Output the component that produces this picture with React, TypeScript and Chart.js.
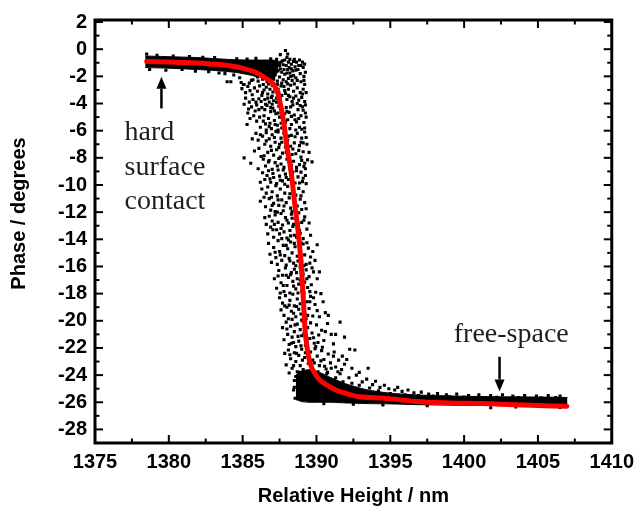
import React, { useEffect, useRef } from 'react';
import { Chart, registerables } from 'chart.js';

Chart.register(...registerables);

// ---------- axis ticks ----------
const xMajorTicks = [1375, 1380, 1385, 1390, 1395, 1400, 1405, 1410];
const xMinorTicks = [1377.5, 1382.5, 1387.5, 1392.5, 1397.5, 1402.5, 1407.5];
const yMajorTicks = [-28, -26, -24, -22, -20, -18, -16, -14, -12, -10, -8, -6, -4, -2, 0, 2];
const yMinorTicks = [-27, -25, -23, -21, -19, -17, -15, -13, -11, -9, -7, -5, -3, -1, 1];

// ---------- fitted curve (red) ----------
const fitX = [1378.5, 1380.0, 1381.5, 1383.0, 1384.0, 1385.0, 1385.9, 1386.5, 1387.1, 1387.4, 1387.6, 1387.8, 1387.95, 1388.3, 1388.56, 1388.76, 1388.96, 1389.1, 1389.23, 1389.4, 1389.56, 1389.9, 1390.2, 1390.8, 1391.3, 1392.0, 1392.9, 1394.6, 1396.8, 1399.0, 1401.3, 1404.0, 1406.95];
const fitY = [-0.9, -0.95, -1.0, -1.1, -1.2, -1.4, -1.7, -2.1, -2.6, -3.3, -4.3, -5.5, -6.8, -9.2, -11.7, -13.4, -15.8, -18.2, -20.7, -22.2, -23.1, -23.9, -24.35, -24.8, -25.1, -25.35, -25.6, -25.7, -25.95, -26.05, -26.1, -26.2, -26.3];

// ---------- dense bands of measured points (upper/lower envelope) ----------
const contactBandX = [1378.4, 1380.0, 1382.0, 1383.5, 1384.6, 1385.5, 1386.3, 1387.0, 1387.4];
const contactBandTop = [-0.5, -0.55, -0.62, -0.72, -0.78, -0.8, -0.8, -0.8, -0.85];
const contactBandBottom = [-1.35, -1.4, -1.5, -1.6, -1.72, -1.9, -2.1, -2.3, -1.6];

const freeBandX = [1388.6, 1389.0, 1389.5, 1390.2, 1391.0, 1392.0, 1393.5, 1395.0, 1397.0, 1400.0, 1403.0, 1405.5, 1407.0];
const freeBandTop = [-24.0, -23.7, -23.6, -23.8, -24.2, -24.65, -25.1, -25.33, -25.47, -25.56, -25.6, -25.62, -25.65];
const freeBandBottom = [-25.8, -25.95, -26.0, -26.0, -26.0, -26.05, -26.1, -26.12, -26.18, -26.22, -26.25, -26.28, -26.3];

// ---------- individual measured points ----------
const plateauPoints = [
  [1378.5, -0.35], [1378.7, -1.5], [1379.2, -0.45], [1379.8, -1.55], [1380.3, -0.5], [1380.9, -1.5],
  [1381.4, -0.55], [1381.8, -1.62], [1382.3, -0.6], [1382.7, -1.65], [1383.1, -0.62], [1383.4, -1.75],
  [1383.8, -1.8], [1383.95, -2.4], [1384.2, -2.4], [1384.4, -1.9], [1384.6, -0.7], [1384.8, -2.1],
  [1385.05, -2.6], [1385.3, -0.72], [1385.6, -2.3], [1385.9, -0.68],
];

const transitionPoints = [
  [1387.55, -0.4], [1387.9, -0.1], [1388.05, -0.35], [1388.0, -0.6], [1388.2, -0.75], [1388.85, -0.8],
  [1389.05, -0.95], [1388.95, -1.2], [1387.7, -0.85], [1387.3, -0.75], [1386.9, -0.7], [1388.45, -0.9],
  [1388.3, -1.1], [1388.55, -1.3], [1388.75, -1.5], [1389.1, -1.35], [1388.9, -1.8], [1389.15, -2.0],
  [1388.6, -2.1], [1388.4, -1.6], [1388.95, -2.4], [1389.2, -2.6], [1386.05, -2.35], [1385.7, -2.25],
  [1385.45, -2.5], [1385.1, -2.6], [1384.9, -2.45],
  [1385.85, -1.9], [1386.0, -2.05], [1386.2, -1.85], [1386.35, -2.2], [1386.5, -1.95], [1386.65, -2.4],
  [1386.8, -2.1], [1386.95, -2.45], [1387.1, -2.2], [1387.2, -1.9], [1387.35, -2.35], [1387.5, -2.05],
  [1387.65, -2.5], [1387.75, -2.25], [1387.85, -1.85], [1387.95, -2.4], [1388.1, -2.15], [1388.2, -1.75],
  [1388.35, -2.3], [1388.45, -1.95], [1388.6, -1.55], [1388.7, -2.3], [1388.8, -1.2], [1388.65, -0.95],
  [1388.5, -0.75], [1388.1, -0.95], [1387.95, -1.2], [1388.3, -1.45], [1387.8, -1.5], [1387.5, -1.2],
  [1388.15, -1.35], [1388.0, -1.75], [1387.65, -1.7], [1388.25, -2.0], [1387.4, -1.6],
  [1387.6, -0.95], [1387.85, -0.8], [1387.45, -1.0], [1387.75, -1.15], [1388.05, -1.5], [1387.55, -1.45],
  [1389.2, -1.1], [1389.25, -1.7], [1389.15, -2.3],
  // -2.5 .. -4
  [1384.95, -2.9], [1385.2, -3.2], [1385.5, -3.05], [1385.65, -3.35], [1385.8, -2.85], [1386.0, -3.1],
  [1386.15, -2.7], [1386.3, -3.4], [1386.45, -3.0], [1386.5, -3.7], [1386.6, -2.8], [1386.7, -3.3],
  [1386.8, -3.9], [1386.85, -2.95], [1386.95, -3.55], [1387.05, -3.15], [1387.1, -3.8], [1387.2, -2.9],
  [1387.3, -3.6], [1387.45, -3.2], [1387.55, -3.95], [1387.65, -3.4], [1387.8, -2.75], [1387.9, -3.25],
  [1388.0, -3.7], [1388.1, -2.95], [1388.2, -3.5], [1388.35, -3.85], [1388.45, -3.1], [1388.6, -3.45],
  [1388.7, -2.85], [1388.8, -3.75], [1388.9, -3.2], [1389.0, -3.55], [1389.1, -2.95], [1389.2, -3.85],
  [1386.25, -3.85], [1386.4, -2.6], [1386.1, -3.65], [1385.9, -3.9], [1387.0, -2.65], [1387.6, -2.7],
  [1388.25, -2.65], [1388.5, -2.55], [1386.75, -2.55], [1387.35, -2.6], [1385.35, -2.75], [1388.05, -2.55],
  [1386.35, -3.2], [1386.7, -3.6], [1387.0, -3.45], [1387.3, -3.9], [1387.55, -3.65], [1388.1, -3.4],
  [1388.45, -3.6], [1388.7, -4.0], [1387.85, -3.05], [1387.4, -2.95],
  [1385.2, -3.6], [1385.45, -3.9], [1385.7, -3.7], [1389.3, -3.2], [1389.05, -3.3],
  // -4 .. -6
  [1385.1, -4.05], [1385.35, -4.7], [1385.6, -4.25], [1385.85, -4.55], [1385.95, -5.3], [1386.2, -5.75],
  [1386.3, -4.3], [1386.45, -4.9], [1386.55, -5.5], [1386.65, -4.15], [1386.75, -5.1], [1386.9, -4.6],
  [1386.95, -5.85], [1387.05, -4.35], [1387.15, -5.25], [1387.25, -4.75], [1387.35, -5.6], [1387.45, -4.2],
  [1387.5, -5.0], [1387.6, -5.45], [1387.7, -4.5], [1387.85, -5.9], [1387.95, -4.3], [1388.05, -5.2],
  [1388.15, -4.65], [1388.3, -5.55], [1388.4, -4.1], [1388.5, -4.85], [1388.65, -5.35], [1388.75, -4.45],
  [1388.85, -5.75], [1388.95, -4.9], [1389.05, -4.25], [1389.15, -5.4], [1389.25, -4.7], [1386.1, -4.45],
  [1386.85, -5.45], [1387.4, -5.95], [1387.75, -5.15], [1388.6, -5.95], [1388.25, -4.25], [1386.4, -5.3],
  [1387.0, -4.05], [1388.9, -4.15], [1385.3, -5.55],
  [1386.55, -4.05], [1386.9, -4.3], [1387.15, -4.55], [1387.4, -4.7], [1387.65, -4.85], [1387.9, -5.35],
  [1388.0, -4.6], [1388.2, -5.85], [1388.3, -4.95], [1388.55, -5.2], [1388.8, -5.1], [1389.0, -5.9],
  [1389.1, -4.5], [1386.6, -5.95], [1386.8, -5.7], [1387.2, -5.55], [1387.65, -5.8], [1386.5, -4.45],
  [1387.85, -4.75],
  [1385.75, -4.9], [1385.5, -5.1], [1385.95, -4.1], [1386.15, -5.0], [1385.4, -4.4], [1389.25, -4.1],
  [1389.3, -5.0], [1389.2, -5.8],
  // -6 .. -8
  [1386.1, -7.3], [1386.35, -6.4], [1386.5, -7.0], [1386.6, -6.15], [1386.7, -7.6], [1386.8, -6.6],
  [1386.9, -7.15], [1387.0, -6.3], [1387.1, -7.8], [1387.2, -6.85], [1387.3, -7.4], [1387.4, -6.1],
  [1387.5, -7.0], [1387.6, -6.55], [1387.7, -7.65], [1387.8, -6.2], [1387.9, -7.2], [1388.05, -6.7],
  [1388.15, -7.9], [1388.3, -6.35], [1388.4, -7.35], [1388.5, -6.9], [1388.6, -7.7], [1388.7, -6.2],
  [1388.85, -7.1], [1389.0, -6.55], [1389.1, -7.55], [1389.2, -6.1], [1389.35, -7.0], [1389.5, -7.6],
  [1389.7, -8.3], [1389.4, -8.15], [1386.45, -7.85], [1387.25, -6.05], [1388.25, -7.15], [1388.95, -7.95],
  [1387.55, -7.95], [1386.4, -8.1], [1385.55, -8.4], [1385.1, -8.0],
  [1386.6, -6.75], [1386.95, -7.45], [1387.15, -6.5], [1387.45, -7.25], [1387.65, -6.85], [1387.95, -7.6],
  [1388.1, -6.4], [1388.35, -7.75], [1388.55, -6.45], [1388.8, -7.45], [1388.95, -6.85],
  [1385.9, -6.2], [1385.65, -6.6], [1386.05, -6.7], [1386.2, -6.3], [1386.25, -7.9], [1385.8, -7.5],
  [1389.3, -6.5], [1389.1, -6.9],
  // -8 .. -10
  [1386.55, -8.6], [1386.65, -9.3], [1386.8, -8.2], [1386.9, -9.8], [1387.0, -8.85], [1387.1, -9.45],
  [1387.2, -8.35], [1387.3, -9.9], [1387.4, -8.9], [1387.5, -9.35], [1387.6, -8.45], [1387.7, -9.7],
  [1387.8, -8.7], [1387.9, -9.2], [1388.0, -8.1], [1388.1, -9.6], [1388.2, -8.8], [1388.35, -9.35],
  [1388.45, -8.25], [1388.55, -9.85], [1388.65, -8.95], [1388.75, -9.4], [1388.85, -8.5], [1388.95, -9.05],
  [1389.05, -9.75], [1389.15, -8.65], [1389.25, -9.3], [1386.35, -9.1], [1386.2, -9.8], [1387.45, -8.05],
  [1388.3, -8.55], [1387.85, -9.95], [1386.75, -8.95], [1389.0, -8.2],
  [1386.75, -8.3], [1387.35, -8.6], [1387.75, -8.9], [1388.2, -8.35], [1388.65, -8.7], [1389.1, -9.5],
  [1389.2, -8.4], [1386.85, -9.55], [1387.05, -9.15], [1387.55, -9.65], [1387.95, -9.45], [1388.4, -9.05],
  [1388.85, -9.85], [1386.5, -9.6], [1386.05, -8.8], [1389.25, -8.8], [1389.3, -9.9],
  // -10 .. -12
  [1386.2, -11.2], [1386.3, -10.3], [1386.45, -10.9], [1386.55, -11.6], [1386.7, -10.15], [1386.8, -11.0],
  [1386.9, -11.85], [1387.0, -10.5], [1387.1, -11.35], [1387.25, -10.05], [1387.35, -10.8], [1387.45, -11.5],
  [1387.55, -10.3], [1387.65, -11.1], [1387.75, -11.9], [1387.85, -10.6], [1387.95, -11.3], [1388.05, -10.1],
  [1388.15, -10.95], [1388.25, -11.7], [1388.4, -10.4], [1388.5, -11.2], [1388.6, -10.75], [1388.7, -11.55],
  [1388.8, -10.25], [1388.9, -11.05], [1389.0, -11.8], [1389.1, -10.5], [1389.2, -11.3], [1387.2, -11.95],
  [1386.6, -10.6], [1388.35, -11.95],
  [1386.95, -10.9], [1387.4, -11.1], [1387.8, -11.55], [1388.2, -10.65], [1388.55, -11.45], [1388.95, -10.8],
  [1389.3, -11.75], [1387.0, -11.5],
  // -12 .. -14
  [1386.6, -12.9], [1386.7, -13.6], [1386.8, -12.3], [1386.9, -13.1], [1387.0, -12.65], [1387.1, -13.85],
  [1387.2, -12.2], [1387.3, -13.3], [1387.4, -12.75], [1387.5, -13.6], [1387.6, -12.1], [1387.7, -12.95],
  [1387.8, -13.45], [1387.9, -12.4], [1388.0, -13.9], [1388.1, -12.8], [1388.2, -13.35], [1388.3, -12.15],
  [1388.4, -13.05], [1388.5, -13.7], [1388.6, -12.5], [1388.7, -13.2], [1388.8, -12.05], [1388.9, -13.55],
  [1389.0, -12.75], [1389.1, -13.95], [1389.2, -12.35], [1389.35, -13.25], [1389.5, -12.8], [1389.6, -13.7],
  [1387.35, -12.0], [1388.25, -13.75], [1387.05, -13.3], [1388.65, -13.85],
  [1386.5, -12.4], [1387.15, -12.9], [1387.6, -13.2], [1388.0, -12.6], [1388.45, -12.9], [1388.75, -12.85],
  [1389.15, -12.6], [1387.65, -13.95], [1388.35, -12.45], [1388.85, -13.35],
  // -14 .. -16
  [1386.75, -14.3], [1386.85, -15.1], [1386.95, -15.7], [1387.1, -14.6], [1387.25, -15.35], [1387.4, -14.1],
  [1387.5, -14.9], [1387.65, -15.55], [1387.75, -14.45], [1387.85, -15.2], [1387.95, -15.9], [1388.05, -14.7],
  [1388.15, -15.4], [1388.25, -14.2], [1388.35, -15.0], [1388.45, -15.75], [1388.55, -14.55], [1388.7, -15.25],
  [1388.8, -14.05], [1388.9, -14.85], [1389.0, -15.6], [1389.1, -14.35], [1389.2, -15.15], [1389.3, -15.85],
  [1389.45, -14.65], [1389.6, -15.3], [1389.75, -14.9], [1389.9, -15.55], [1390.05, -14.4], [1388.6, -15.95],
  [1387.35, -15.85], [1388.1, -14.05],
  [1387.2, -14.95], [1387.55, -15.15], [1387.95, -14.45], [1388.2, -15.6], [1388.5, -14.3], [1388.75, -15.6],
  [1388.95, -14.25], [1389.15, -15.95], [1389.35, -14.25], [1389.55, -15.75],
  // -16 .. -18
  [1387.15, -16.9], [1387.3, -17.6], [1387.45, -16.3], [1387.6, -17.2], [1387.7, -16.65], [1387.8, -17.85],
  [1387.9, -16.1], [1388.0, -17.4], [1388.1, -16.8], [1388.2, -17.95], [1388.3, -16.45], [1388.4, -17.1],
  [1388.5, -16.2], [1388.6, -17.65], [1388.7, -16.9], [1388.8, -17.3], [1388.9, -16.05], [1389.0, -17.8],
  [1389.1, -16.55], [1389.2, -17.15], [1389.3, -16.25], [1389.4, -17.55], [1389.5, -16.75], [1389.65, -17.35],
  [1389.8, -16.4], [1389.95, -17.9], [1390.2, -16.4], [1388.25, -16.6], [1388.75, -17.95], [1387.55, -17.95],
  [1387.4, -16.7], [1387.75, -17.4], [1387.95, -16.65], [1388.45, -17.45], [1388.65, -16.45], [1388.9, -17.0],
  [1389.15, -17.95], [1389.35, -16.9], [1389.55, -17.85], [1389.7, -16.1], [1390.05, -16.9],
  // -18 .. -20
  [1387.5, -18.3], [1387.6, -19.2], [1387.7, -18.7], [1387.8, -19.6], [1387.9, -18.15], [1388.0, -19.0],
  [1388.1, -19.85], [1388.2, -18.5], [1388.3, -19.3], [1388.4, -18.05], [1388.5, -18.9], [1388.6, -19.7],
  [1388.7, -18.4], [1388.8, -19.15], [1388.9, -18.75], [1389.0, -19.95], [1389.1, -18.25], [1389.2, -19.45],
  [1389.35, -18.6], [1389.5, -19.1], [1389.6, -18.2], [1389.75, -19.65], [1389.9, -18.8], [1390.05, -19.25],
  [1390.3, -18.0], [1390.45, -18.6], [1390.6, -19.4], [1390.8, -19.6], [1388.35, -19.9], [1389.3, -19.85],
  [1387.85, -18.9], [1388.15, -18.85], [1388.45, -19.45], [1388.65, -18.95], [1388.95, -19.5], [1389.15, -18.95],
  [1389.4, -19.6], [1389.55, -18.6], [1389.8, -18.3], [1390.2, -19.7],
  // -20 .. -22
  [1387.7, -20.5], [1387.8, -21.4], [1387.95, -20.1], [1388.05, -21.0], [1388.15, -21.75], [1388.25, -20.4],
  [1388.35, -21.2], [1388.5, -20.8], [1388.6, -21.9], [1388.7, -20.25], [1388.8, -21.5], [1388.9, -20.65],
  [1389.0, -21.1], [1389.1, -20.05], [1389.25, -21.8], [1389.4, -20.5], [1389.55, -21.3], [1389.7, -20.9],
  [1389.85, -21.65], [1390.0, -20.3], [1390.15, -21.05], [1390.35, -20.7], [1390.5, -21.45], [1390.75, -20.2],
  [1391.0, -21.0], [1391.3, -21.0], [1391.6, -20.1], [1391.9, -21.2], [1388.45, -21.6], [1389.95, -21.9],
  [1388.0, -20.6], [1388.3, -21.65], [1388.55, -20.3], [1388.75, -21.15], [1388.95, -21.85], [1389.15, -20.95],
  [1389.35, -21.5], [1389.6, -20.15], [1389.8, -21.25], [1390.1, -21.6], [1390.4, -21.95], [1390.6, -20.8],
  [1391.15, -21.7],
  // -22 .. -24
  [1387.85, -22.4], [1387.95, -23.25], [1388.1, -22.15], [1388.25, -22.8], [1388.35, -23.5], [1388.5, -22.35],
  [1388.6, -23.0], [1388.7, -23.75], [1388.8, -22.55], [1388.9, -23.3], [1389.0, -22.1], [1389.1, -23.6],
  [1389.2, -22.7], [1389.3, -23.9], [1389.45, -23.15], [1389.6, -22.3], [1389.75, -22.9], [1389.9, -22.05],
  [1390.05, -22.6], [1390.2, -23.3], [1390.35, -22.2], [1390.5, -22.85], [1390.65, -23.55], [1390.8, -22.45],
  [1390.95, -23.1], [1391.15, -22.6], [1391.3, -23.4], [1391.5, -22.9], [1391.7, -23.6], [1391.9, -23.2],
  [1392.25, -22.1], [1392.6, -22.15], [1392.4, -23.5], [1392.9, -23.8], [1393.5, -23.5], [1388.15, -23.85],
  [1388.2, -22.5], [1388.45, -23.3], [1388.65, -22.4], [1388.85, -23.8], [1389.05, -22.9], [1389.25, -22.35],
  [1389.5, -22.7], [1389.7, -23.45], [1389.85, -23.1], [1390.1, -23.75], [1390.3, -22.95], [1390.55, -23.35],
  [1390.75, -23.8], [1391.0, -23.5], [1391.2, -22.3], [1391.45, -23.75], [1391.75, -22.6], [1392.05, -22.85],
  [1388.5, -24.4], [1388.45, -25.1], [1388.55, -25.7], [1388.5, -24.9], [1388.6, -24.1],
];

const tailPoints = [
  [1391.6, -23.9], [1392.2, -24.2], [1392.7, -24.0], [1393.1, -24.5], [1393.4, -24.3], [1393.8, -24.7],
  [1394.0, -24.45], [1394.3, -24.9], [1394.6, -24.75], [1394.9, -25.0], [1395.3, -25.1], [1395.5, -24.9],
  [1395.8, -25.2], [1396.2, -25.1], [1396.6, -25.3], [1397.1, -25.25], [1397.6, -25.4], [1398.2, -25.35],
  [1398.8, -25.45], [1399.5, -25.4], [1400.3, -25.5], [1401.0, -25.45], [1401.8, -25.5], [1402.6, -25.45],
  [1403.3, -25.55], [1404.1, -25.5], [1404.9, -25.55], [1405.7, -25.5], [1406.5, -25.55], [1401.8, -26.4],
  [1390.7, -23.9], [1391.3, -24.2], [1391.8, -24.5], [1392.4, -24.6], [1392.9, -24.75], [1393.6, -24.95],
  [1394.2, -25.15], [1395.0, -25.35], [1396.0, -25.45], [1396.9, -25.5], [1397.9, -25.55], [1399.0, -25.6],
  [1400.0, -25.62], [1401.4, -25.65], [1402.2, -25.63], [1403.7, -25.65], [1405.2, -25.68], [1406.2, -25.66],
  [1390.5, -26.1], [1392.5, -26.15], [1394.5, -26.2], [1397.5, -26.25], [1403.5, -26.35], [1406.5, -26.38],
];

const FONT_SANS = '"Liberation Sans", Arial, sans-serif';
const FONT_SERIF = '"Liberation Serif", "Times New Roman", serif';

const toXY = (xs: number[], ys: number[]) => xs.map((x, i) => ({ x, y: ys[i] }));
const pairs = (arr: number[][]) => arr.map(([x, y]) => ({ x, y }));

const framePlugin = {
  id: 'frameAndNotes',
  afterDatasetsDraw(chart: any) {
    const { ctx, chartArea: a, scales } = chart;
    const xs = scales.x;
    const ys = scales.y;
    ctx.save();
    ctx.strokeStyle = '#000';
    ctx.fillStyle = '#000';
    ctx.lineWidth = 2;
    const seg = (x0: number, y0: number, x1: number, y1: number) => {
      ctx.beginPath();
      ctx.moveTo(x0, y0);
      ctx.lineTo(x1, y1);
      ctx.stroke();
    };
    const major = 8;
    const minor = 4.5;
    xMajorTicks.forEach((v) => {
      const p = xs.getPixelForValue(v);
      seg(p, a.bottom, p, a.bottom - major);
      seg(p, a.top, p, a.top + major);
    });
    xMinorTicks.forEach((v) => {
      const p = xs.getPixelForValue(v);
      seg(p, a.bottom, p, a.bottom - minor);
      seg(p, a.top, p, a.top + minor);
    });
    yMajorTicks.forEach((v) => {
      const p = ys.getPixelForValue(v);
      seg(a.left, p, a.left + major, p);
      seg(a.right, p, a.right - major, p);
    });
    yMinorTicks.forEach((v) => {
      const p = ys.getPixelForValue(v);
      seg(a.left, p, a.left + minor, p);
      seg(a.right, p, a.right - minor, p);
    });
    ctx.lineWidth = 3;
    ctx.strokeRect(a.left, a.top, a.right - a.left, a.bottom - a.top);

    // y axis title
    ctx.save();
    ctx.translate(19, (a.top + a.bottom) / 2 - 18);
    ctx.rotate(-Math.PI / 2);
    ctx.font = `bold 20px ${FONT_SANS}`;
    ctx.textAlign = 'center';
    ctx.textBaseline = 'middle';
    ctx.fillText('Phase / degrees', 0, 0);
    ctx.restore();

    // annotations
    const arrow = (xv: number, yTail: number, yTip: number) => {
      const x = xs.getPixelForValue(xv);
      const y0 = ys.getPixelForValue(yTail);
      const y1 = ys.getPixelForValue(yTip);
      const dir = Math.sign(y1 - y0);
      const hl = 12;
      const hw = 5;
      ctx.lineWidth = 2.5;
      seg(x, y0, x, y1 - dir * hl);
      ctx.beginPath();
      ctx.moveTo(x, y1);
      ctx.lineTo(x - hw, y1 - dir * hl);
      ctx.lineTo(x + hw, y1 - dir * hl);
      ctx.closePath();
      ctx.fill();
    };
    arrow(1379.5, -4.36, -2.02);
    arrow(1402.4, -22.65, -25.2);

    ctx.fillStyle = '#1e1e1e';
    ctx.font = `28px ${FONT_SERIF}`;
    ctx.textAlign = 'left';
    ctx.textBaseline = 'alphabetic';
    const hardLines = ['hard', 'surface', 'contact'];
    const hardY = [-6.7, -9.25, -11.75];
    hardLines.forEach((t, i) => {
      ctx.fillText(t, xs.getPixelForValue(1377.0), ys.getPixelForValue(hardY[i]));
    });
    ctx.fillText('free-space', xs.getPixelForValue(1399.3), ys.getPixelForValue(-21.55));
    ctx.restore();
  },
};

export default function App() {
  const ref = useRef<HTMLCanvasElement>(null);
  useEffect(() => {
    document.body.style.margin = '0';
    const tickFont = { family: FONT_SANS, size: 20, weight: 'bold' as const };
    const bandStyle = {
      type: 'line' as const,
      borderColor: '#000',
      backgroundColor: '#000',
      borderWidth: 1,
      pointRadius: 0,
      tension: 0.2,
      order: 2,
    };
    const chart = new Chart(ref.current!, {
      type: 'scatter',
      data: {
        datasets: [
          {
            type: 'line',
            data: toXY(fitX, fitY),
            borderColor: '#ff0000',
            borderWidth: 5,
            borderCapStyle: 'round',
            pointRadius: 0,
            cubicInterpolationMode: 'monotone',
            fill: false,
            order: 0,
          } as any,
          {
            type: 'scatter',
            data: pairs([...plateauPoints, ...transitionPoints, ...tailPoints]),
            backgroundColor: '#000',
            borderWidth: 0,
            pointStyle: 'rect',
            pointRadius: 2.2,
            order: 1,
          } as any,
          { ...bandStyle, data: toXY(contactBandX, contactBandTop), fill: false } as any,
          { ...bandStyle, data: toXY(contactBandX, contactBandBottom), fill: '-1' } as any,
          { ...bandStyle, data: toXY(freeBandX, freeBandTop), fill: false } as any,
          { ...bandStyle, data: toXY(freeBandX, freeBandBottom), fill: '-1' } as any,
        ],
      },
      options: {
        responsive: false,
        animation: false,
        events: [],
        devicePixelRatio: 1,
        layout: { padding: { top: 18, right: 24, bottom: 0, left: 0 } },
        plugins: {
          legend: { display: false },
          tooltip: { enabled: false },
        },
        scales: {
          x: {
            type: 'linear',
            min: 1375,
            max: 1410,
            grid: { display: false, drawTicks: false },
            border: { display: false },
            ticks: {
              stepSize: 5,
              font: tickFont,
              color: '#000',
              padding: 7,
              maxRotation: 0,
              autoSkip: false,
              callback: (v: any) => String(v),
            },
            title: {
              display: true,
              text: 'Relative Height / nm',
              color: '#000',
              font: { family: FONT_SANS, size: 20, weight: 'bold', lineHeight: 1 },
              padding: 0,
            },
            afterFit: (s: any) => {
              s.height = 63;
            },
          },
          y: {
            type: 'linear',
            min: -29,
            max: 2.15,
            grid: { display: false, drawTicks: false },
            border: { display: false },
            ticks: {
              stepSize: 2,
              includeBounds: false,
              font: tickFont,
              color: '#000',
              padding: 8,
              autoSkip: false,
              callback: (v: any) => String(v),
            },
            afterFit: (s: any) => {
              s.width = 95;
            },
          },
        },
      } as any,
      plugins: [framePlugin],
    });
    return () => chart.destroy();
  }, []);
  return (
    <div style={{ width: 641, height: 506 }}>
      <canvas ref={ref} width={641} height={506} style={{ display: 'block' }} />
    </div>
  );
}
